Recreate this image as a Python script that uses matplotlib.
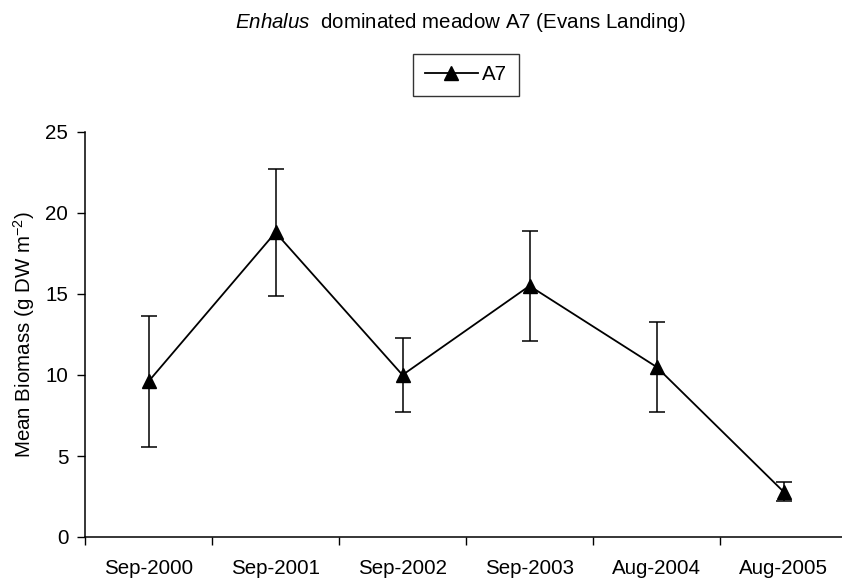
import matplotlib
matplotlib.use("Agg")
import matplotlib.pyplot as plt
from matplotlib.lines import Line2D
import numpy as np

# Survey dates and mean above-ground biomass with error bars
sample_dates = ["Sep-2000", "Sep-2001", "Sep-2002", "Sep-2003", "Aug-2004", "Aug-2005"]
mean_biomass = [9.6, 18.8, 10.0, 15.5, 10.5, 2.8]
error_biomass = [4.05, 3.9, 2.3, 3.4, 2.8, 0.6]
y_ticks = [0, 5, 10, 15, 20, 25]
series_name = "A7"

plt.rcParams["font.family"] = ["Liberation Sans", "DejaVu Sans"]
plt.rcParams["mathtext.fontset"] = "custom"
plt.rcParams["mathtext.rm"] = "Liberation Sans"
plt.rcParams["mathtext.it"] = "Liberation Sans:italic"

FS = 14.8
W, H = 842, 584
fig = plt.figure(figsize=(W / 100, H / 100), dpi=100)
ax = fig.add_axes([85 / W, (H - 537) / H, 762 / W, 405 / H])

x = np.arange(len(sample_dates))
ax.errorbar(x, mean_biomass, yerr=error_biomass, color="black", lw=1.3,
            marker="^", markersize=10, ecolor="black", elinewidth=1.1,
            capsize=6, capthick=1.1, zorder=3)

ax.set_xlim(-0.5, len(sample_dates) - 0.5)
ax.set_ylim(0, 25)
ax.set_yticks(y_ticks)
ax.set_xticks(x)
ax.set_xticklabels(sample_dates)
ax.set_xticks(np.arange(-0.5, len(sample_dates) + 0.5, 1.0), minor=True)
ax.tick_params(axis="x", which="major", length=0, pad=16, labelsize=FS)
ax.tick_params(axis="x", which="minor", length=6, width=1, direction="out")
ax.tick_params(axis="y", length=6, width=1, direction="out", pad=6, labelsize=FS)

for side in ("top", "right"):
    ax.spines[side].set_visible(False)
for side in ("left", "bottom"):
    ax.spines[side].set_linewidth(1.1)

ax.set_ylabel("Mean Biomass (g DW m$^{-2}$)", fontsize=FS, labelpad=6)

fig.text(460 / W, 1 - 23 / H,
         r"$\mathit{Enhalus}$  dominated meadow A7 (Evans Landing)",
         ha="center", va="center", fontsize=FS)

handle = Line2D([], [], color="black", lw=1.3, marker="^", markersize=10)
leg = fig.legend([handle], [series_name], loc="center",
                 bbox_to_anchor=(466 / W, 1 - 75 / H),
                 fontsize=FS, frameon=True, fancybox=False, edgecolor="black",
                 handlelength=2.6, handletextpad=0.2, borderpad=0.55,
                 borderaxespad=0)
leg.get_frame().set_linewidth(1.0)

fig.savefig("out.png", dpi=100)
